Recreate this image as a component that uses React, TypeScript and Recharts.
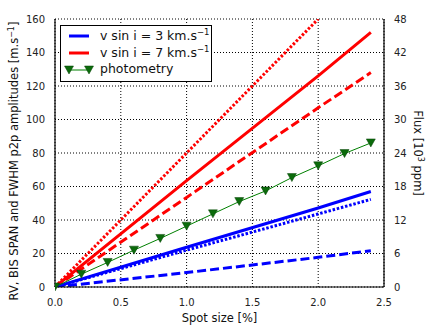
import React from 'react';
import { LineChart, Line, XAxis, YAxis, CartesianGrid } from 'recharts';

// spot size [%] at which the RV / BIS / FWHM curves were read
const spotSize = [0, 1.0, 2.0, 2.4];
const red7Solid = [0, 63.5, 126, 152];
const red7Dashed = [0, 53.5, 107, 128];
const red7DottedX = [0, 1.0, 2.0];
const red7Dotted = [0, 80, 160];
const blue3Solid = [0, 23.7, 47.2, 57];
const blue3Dotted = [0, 22, 43.6, 52.3];
const blue3Dashed = [0, 8.6, 17.7, 21.7];

// photometry (right axis, 10^3 ppm)
const photX = [0, 0.2, 0.4, 0.6, 0.8, 1.0, 1.2, 1.4, 1.6, 1.8, 2.0, 2.2, 2.4];
const photFlux = [0, 2.3, 4.4, 6.6, 8.7, 10.9, 13.1, 15.3, 17.2, 19.6, 21.7, 23.9, 25.8];

const xTicks = [0, 0.5, 1.0, 1.5, 2.0, 2.5];
const leftTicks = [0, 20, 40, 60, 80, 100, 120, 140, 160];
const rightTicks = [0, 6, 12, 18, 24, 30, 36, 42, 48];

const toPts = (xs: number[], ys: number[]) => xs.map((x, i) => ({ x, y: ys[i] }));

const FONT = 'DejaVu Sans, sans-serif';
const tickStyle = { fontSize: 10, fill: '#222', fontFamily: FONT };
const labelStyle = { fontSize: 11.5, fill: '#111', fontFamily: FONT };

const Triangle = (props: any) => {
  const { cx, cy } = props;
  if (cx == null || cy == null) return null;
  return (
    <path
      d={`M${cx - 4.5},${cy - 4} L${cx + 4.5},${cy - 4} L${cx},${cy + 4} Z`}
      fill="#0b6b0b"
      stroke="#064006"
      strokeWidth={0.5}
    />
  );
};

const LeftLabel = () => (
  <text transform="translate(18,161) rotate(-90)" textAnchor="middle" style={labelStyle}>
    RV, BIS SPAN and FWHM p2p amplitudes [m.s<tspan dy={-4} fontSize={8}>−1</tspan><tspan dy={4}>]</tspan>
  </text>
);

const RightLabel = () => (
  <text transform="translate(414,153) rotate(90)" textAnchor="middle" style={labelStyle}>
    Flux [10<tspan dy={-4} fontSize={8}>3</tspan><tspan dy={4}>  ppm]</tspan>
  </text>
);

function LegendBox() {
  const row = (y: number, sample: React.ReactNode, label: React.ReactNode) => (
    <div style={{ position: 'absolute', left: 0, top: y, height: 18, width: '100%' }}>
      <svg width={40} height={18} style={{ position: 'absolute', left: 0, top: 0 }}>
        {sample}
      </svg>
      <span style={{ position: 'absolute', left: 39, top: 0, fontSize: 12.5, whiteSpace: 'nowrap' }}>
        {label}
      </span>
    </div>
  );
  return (
    <div
      style={{
        position: 'absolute',
        left: 60,
        top: 25,
        width: 150,
        height: 55,
        border: '1px solid #000',
        background: '#fff',
        fontFamily: FONT,
        color: '#111',
      }}
    >
      {row(1, <line x1={8} x2={28} y1={9} y2={9} stroke="#0000ff" strokeWidth={3} />,
        <>v sin i = 3 km.s<sup style={{ fontSize: 8.5 }}>−1</sup></>)}
      {row(18, <line x1={8} x2={28} y1={9} y2={9} stroke="#ff0000" strokeWidth={3} />,
        <>v sin i = 7 km.s<sup style={{ fontSize: 8.5 }}>−1</sup></>)}
      {row(35, (
        <>
          <line x1={8} x2={28} y1={9} y2={9} stroke="#008000" strokeWidth={1} />
          <Triangle cx={8} cy={9} />
          <Triangle cx={28} cy={9} />
        </>
      ), 'photometry')}
    </div>
  );
}

export default function App() {
  return (
    <div style={{ position: 'absolute', left: 0, top: 0, width: 436, height: 327, background: '#fff' }}>
      <LineChart width={436} height={327} margin={{ top: 19, right: 0, bottom: 0, left: 0 }}>
        <CartesianGrid stroke="#000" strokeDasharray="1 2" strokeWidth={1} yAxisId="left" />
        <XAxis
          type="number"
          dataKey="x"
          domain={[0, 2.5]}
          ticks={xTicks}
          tickFormatter={(v: number) => v.toFixed(1)}
          height={40}
          tickLine={false}
          tickMargin={6}
          tick={tickStyle}
          axisLine={{ stroke: '#000', strokeWidth: 1.2 }}
          label={{ value: 'Spot size [%]', position: 'insideBottom', offset: 5, style: labelStyle }}
          allowDataOverflow
        />
        <XAxis
          xAxisId="top"
          orientation="top"
          type="number"
          dataKey="x"
          domain={[0, 2.5]}
          height={0}
          tick={false}
          tickLine={false}
          axisLine={{ stroke: '#000', strokeWidth: 1.2 }}
          label={{ value: 'Spot', position: 'top', offset: 4, style: labelStyle }}
        />
        <YAxis
          yAxisId="left"
          domain={[0, 160]}
          ticks={leftTicks}
          width={55}
          tickLine={false}
          tickMargin={4}
          tick={tickStyle}
          axisLine={{ stroke: '#000', strokeWidth: 1.2 }}
          allowDataOverflow
          label={{ content: () => <LeftLabel /> }}
        />
        <YAxis
          yAxisId="right"
          orientation="right"
          domain={[0, 48]}
          ticks={rightTicks}
          width={52}
          tickLine={false}
          tickMargin={4}
          tick={tickStyle}
          axisLine={{ stroke: '#000', strokeWidth: 1.2 }}
          label={{ content: () => <RightLabel /> }}
        />

        <Line yAxisId="left" data={toPts(spotSize, red7Solid)} dataKey="y" stroke="#ff0000" strokeWidth={3} dot={false} activeDot={false} isAnimationActive={false} />
        <Line yAxisId="left" data={toPts(spotSize, red7Dashed)} dataKey="y" stroke="#ff0000" strokeWidth={3} strokeDasharray="9 4" dot={false} activeDot={false} isAnimationActive={false} />
        <Line yAxisId="left" data={toPts(red7DottedX, red7Dotted)} dataKey="y" stroke="#ff0000" strokeWidth={3} strokeDasharray="2.5 1.8" dot={false} activeDot={false} isAnimationActive={false} />
        <Line yAxisId="left" data={toPts(spotSize, blue3Solid)} dataKey="y" stroke="#0000ff" strokeWidth={3} dot={false} activeDot={false} isAnimationActive={false} />
        <Line yAxisId="left" data={toPts(spotSize, blue3Dotted)} dataKey="y" stroke="#0000ff" strokeWidth={3} strokeDasharray="2.5 1.8" dot={false} activeDot={false} isAnimationActive={false} />
        <Line yAxisId="left" data={toPts(spotSize, blue3Dashed)} dataKey="y" stroke="#0000ff" strokeWidth={3} strokeDasharray="9 4" dot={false} activeDot={false} isAnimationActive={false} />
        <Line yAxisId="right" data={toPts(photX, photFlux)} dataKey="y" stroke="#008000" strokeWidth={1} dot={<Triangle />} activeDot={false} isAnimationActive={false} />
      </LineChart>
      <LegendBox />
    </div>
  );
}
